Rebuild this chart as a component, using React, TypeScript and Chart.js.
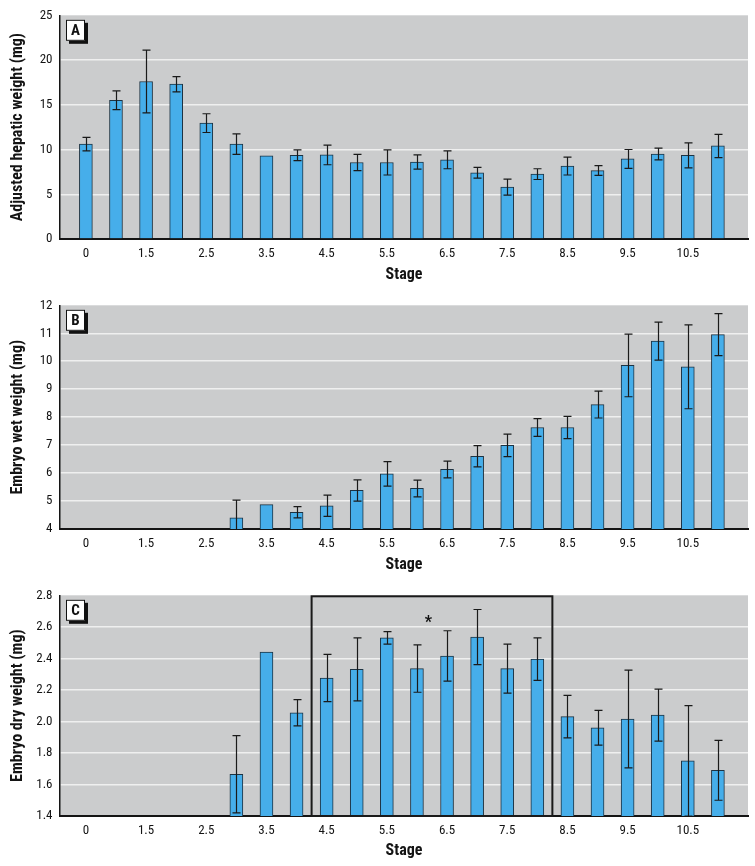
import React, { useEffect, useRef } from 'react';
import { Chart, registerables } from 'chart.js';

Chart.register(...registerables);

// ---------- data ----------
const stages = ['0', '1', '1.5', '2', '2.5', '3', '3.5', '4', '4.5', '5', '5.5', '6', '6.5', '7', '7.5', '8', '8.5', '9', '9.5', '10', '10.5', '11'];

const hepaticWeight = [10.6, 15.5, 17.6, 17.3, 12.95, 10.6, 9.3, 9.35, 9.4, 8.55, 8.55, 8.6, 8.85, 7.4, 5.8, 7.25, 8.15, 7.65, 8.95, 9.5, 9.35, 10.4];
const hepaticError = [0.75, 1.05, 3.5, 0.85, 1.05, 1.15, 0, 0.6, 1.1, 0.9, 1.4, 0.8, 1.0, 0.6, 0.9, 0.6, 1.0, 0.55, 1.05, 0.65, 1.4, 1.3];

const wetWeight = [null, null, null, null, null, 4.4, 4.87, 4.6, 4.83, 5.38, 5.97, 5.45, 6.13, 6.6, 6.99, 7.63, 7.63, 8.45, 9.85, 10.72, 9.8, 10.95];
const wetError = [null, null, null, null, null, 0.63, 0, 0.2, 0.38, 0.38, 0.44, 0.3, 0.3, 0.38, 0.4, 0.32, 0.4, 0.48, 1.12, 0.68, 1.5, 0.75];

const dryWeight = [null, null, null, null, null, 1.665, 2.44, 2.055, 2.275, 2.33, 2.53, 2.335, 2.415, 2.535, 2.335, 2.395, 2.03, 1.96, 2.015, 2.04, 1.75, 1.69];
const dryError = [null, null, null, null, null, 0.245, 0, 0.083, 0.15, 0.2, 0.04, 0.15, 0.16, 0.175, 0.155, 0.135, 0.135, 0.11, 0.31, 0.165, 0.35, 0.19];

const yTicksA = [0, 5, 10, 15, 20, 25];
const yTicksB = [4, 5, 6, 7, 8, 9, 10, 11, 12];
const yTicksC = [1.4, 1.6, 1.8, 2.0, 2.2, 2.4, 2.6, 2.8];

const boxedStages = ['4.5', '8'];
const significanceMark = '*';

// ---------- style ----------
const FONT = '"Liberation Sans Narrow", "Roboto Condensed", "DejaVu Sans Condensed", "Arial Narrow", sans-serif';
const BAR_FILL = '#46aeea';
const BAR_EDGE = '#1d3343';
const PLOT_BG = '#cbcccd';
const GRID = '#efefef';
const INK = '#141414';

type PanelProps = {
  top: number;
  height: number;
  plotTop: number;
  plotBottom: number;
  letter: string;
  values: (number | null)[];
  errors: (number | null)[];
  yTicks: number[];
  decimals: number;
  yTitle: string;
  highlight?: boolean;
};

function Panel(props: PanelProps) {
  const ref = useRef<HTMLCanvasElement>(null);
  useEffect(() => {
    const { height, plotTop, plotBottom, letter, values, errors, yTicks, decimals, yTitle, highlight } = props;
    const yMin = yTicks[0];
    const yMax = yTicks[yTicks.length - 1];

    const bgPlugin = {
      id: 'bg',
      beforeDraw(c: any) {
        const { ctx, chartArea: a } = c;
        ctx.save();
        ctx.fillStyle = PLOT_BG;
        ctx.fillRect(a.left, a.top, a.right - a.left, a.bottom - a.top);
        ctx.restore();
      },
    };

    const errPlugin = {
      id: 'errbars',
      afterDatasetsDraw(c: any) {
        const { ctx, chartArea: a } = c;
        const ys = c.scales.y;
        const meta = c.getDatasetMeta(0);
        ctx.save();
        ctx.beginPath();
        ctx.rect(a.left, a.top, a.right - a.left, a.bottom - a.top);
        ctx.clip();
        ctx.strokeStyle = '#1a1a1a';
        ctx.lineWidth = 1.2;
        meta.data.forEach((bar: any, i: number) => {
          const v = values[i];
          const e = errors[i];
          if (v == null || e == null || e === 0) return;
          const x = Math.round(bar.x) + 0.5;
          const yT = ys.getPixelForValue(v + e);
          const yB = ys.getPixelForValue(v - e);
          const cap = 4;
          ctx.beginPath();
          ctx.moveTo(x, yT);
          ctx.lineTo(x, yB);
          ctx.moveTo(x - cap, yT);
          ctx.lineTo(x + cap, yT);
          ctx.moveTo(x - cap, yB);
          ctx.lineTo(x + cap, yB);
          ctx.stroke();
        });
        ctx.restore();
      },
    };

    const decorPlugin = {
      id: 'decor',
      afterDraw(c: any) {
        const { ctx, chartArea: a } = c;
        const xs = c.scales.x;
        const ys = c.scales.y;
        // panel letter box
        const bx = a.left + 6;
        const by = a.top + 4.5;
        const bw = 19;
        const bh = 21;
        ctx.save();
        ctx.fillStyle = '#111';
        ctx.fillRect(bx + 3, by + 3, bw, bh);
        ctx.fillStyle = '#fff';
        ctx.fillRect(bx, by, bw, bh);
        ctx.strokeStyle = '#111';
        ctx.lineWidth = 1;
        ctx.strokeRect(bx + 0.5, by + 0.5, bw - 1, bh - 1);
        ctx.fillStyle = '#111';
        ctx.font = `bold 15px ${FONT}`;
        ctx.textAlign = 'center';
        ctx.textBaseline = 'middle';
        ctx.fillText(letter, bx + bw / 2, by + bh / 2 + 1);
        ctx.restore();

        if (highlight) {
          const i0 = stages.indexOf(boxedStages[0]);
          const i1 = stages.indexOf(boxedStages[1]);
          const x0 = xs.getPixelForValue(i0 - 0.5);
          const x1 = xs.getPixelForValue(i1 + 0.5);
          const y0 = ys.getPixelForValue(yMax);
          const y1 = ys.getPixelForValue(yMin);
          ctx.save();
          ctx.strokeStyle = '#1a1a1a';
          ctx.lineWidth = 2;
          ctx.strokeRect(x0, y0 + 1, x1 - x0, y1 - y0 - 1);
          ctx.fillStyle = '#111';
          ctx.font = `bold 16px ${FONT}`;
          ctx.textAlign = 'center';
          ctx.textBaseline = 'middle';
          const xm = xs.getPixelForValue((i0 + i1) / 2 - 0.12);
          ctx.fillText(significanceMark, xm, ys.getPixelForValue(2.625));
          ctx.restore();
        }
      },
    };

    const chart = new Chart(ref.current as HTMLCanvasElement, {
      type: 'bar',
      data: {
        datasets: [
          {
            data: values.map((v, i) => ({ x: i, y: v })) as any,
            backgroundColor: BAR_FILL,
            borderColor: BAR_EDGE,
            borderWidth: 1,
            barThickness: 13,
          },
        ],
      },
      options: {
        responsive: false,
        animation: false,
        devicePixelRatio: 1,
        layout: { padding: { top: plotTop, left: 0, right: 7, bottom: 0 } },
        plugins: {
          legend: { display: false },
          tooltip: { enabled: false },
        },
        scales: {
          x: {
            type: 'linear',
            min: -0.86,
            max: 22.0,
            offset: false,
            grid: { display: false, drawTicks: false },
            border: { display: true, color: INK, width: 2 },
            afterBuildTicks: (s: any) => {
              s.ticks = stages.map((_, i) => ({ value: i })).filter((t) => t.value % 2 === 0);
            },
            afterFit: (s: any) => {
              s.height = height - plotBottom;
            },
            ticks: {
              autoSkip: false,
              maxRotation: 0,
              padding: 7,
              color: INK,
              font: { family: FONT, size: 13 },
              callback: (v: any) => stages[v as number],
            },
            title: {
              display: true,
              text: 'Stage',
              color: INK,
              font: { family: FONT, size: 16, weight: 'bold' },
              padding: { top: 0, bottom: 5.4 },
            },
          } as any,
          y: {
            type: 'linear',
            min: yMin,
            max: yMax,
            afterBuildTicks: (s: any) => {
              s.ticks = yTicks.map((v) => ({ value: v }));
            },
            afterFit: (s: any) => {
              s.width = 60;
            },
            grid: {
              drawTicks: false,
              lineWidth: 1.5,
              color: (ctx: any) =>
                ctx.tick && (Math.abs(ctx.tick.value - yMin) < 1e-9 || Math.abs(ctx.tick.value - yMax) < 1e-9)
                  ? 'rgba(0,0,0,0)'
                  : GRID,
            },
            border: { display: true, color: INK, width: 1.5 },
            ticks: {
              padding: 7.5,
              color: INK,
              font: { family: FONT, size: 13 },
              callback: (v: any) => Number(v).toFixed(decimals),
            },
            title: {
              display: true,
              text: yTitle,
              color: INK,
              font: { family: FONT, size: 16, weight: 'bold' },
              padding: { top: 8, bottom: 0 },
            },
          } as any,
        },
      },
      plugins: [bgPlugin, errPlugin, decorPlugin],
    });
    return () => chart.destroy();
  }, []);

  return (
    <canvas
      ref={ref}
      width={755}
      height={props.height}
      style={{ position: 'absolute', left: 0, top: props.top, width: 755, height: props.height }}
    />
  );
}

export default function App() {
  return (
    <div style={{ position: 'absolute', left: 0, top: 0, width: 755, height: 866, background: '#fff' }}>
      <Panel
        top={0}
        height={290}
        plotTop={10.5}
        plotBottom={239}
        letter="A"
        values={hepaticWeight}
        errors={hepaticError}
        yTicks={yTicksA}
        decimals={0}
        yTitle="Adjusted hepatic weight (mg)"
      />
      <Panel
        top={290}
        height={290}
        plotTop={13.3}
        plotBottom={239}
        letter="B"
        values={wetWeight}
        errors={wetError}
        yTicks={yTicksB}
        decimals={0}
        yTitle="Embryo wet weight (mg)"
      />
      <Panel
        top={580}
        height={286}
        plotTop={13.3}
        plotBottom={236}
        letter="C"
        values={dryWeight}
        errors={dryError}
        yTicks={yTicksC}
        decimals={1}
        yTitle="Embryo dry weight (mg)"
        highlight
      />
    </div>
  );
}
